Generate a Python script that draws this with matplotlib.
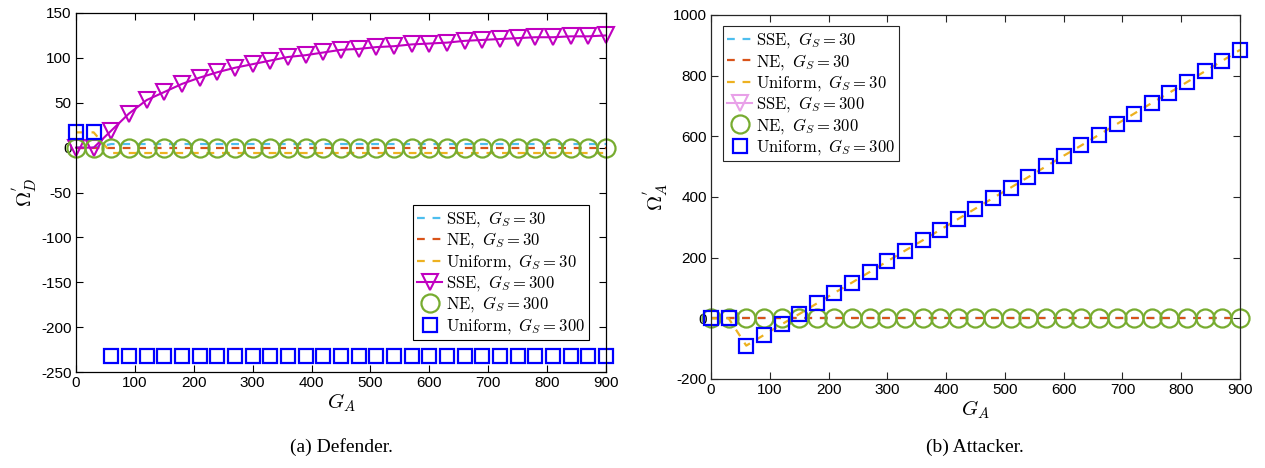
import numpy as np
import matplotlib
matplotlib.use("Agg")
import matplotlib.pyplot as plt

plt.rcParams['mathtext.fontset'] = 'cm'
plt.rcParams['font.family'] = ['Liberation Sans', 'DejaVu Sans']
plt.rcParams['axes.unicode_minus'] = False

# ---------------- data ----------------
G_A = [0, 30, 60, 90, 120, 150, 180, 210, 240, 270, 300, 330, 360, 390, 420, 450,
       480, 510, 540, 570, 600, 630, 660, 690, 720, 750, 780, 810, 840, 870, 900]

# Defender
def_sse30 = [0, 0, 4, 4, 4, 4, 4, 4, 4, 4, 4, 4, 4, 4, 4, 4,
             4, 4, 4, 4, 4, 4, 4, 4, 4, 4, 4, 4, 4, 4, 4]
def_ne30 = [0] * 31
def_uni30 = [17, 17, -6, -6, -6, -6, -6, -6, -6, -6, -6, -6, -6, -6, -6, -6,
             -6, -6, -6, -6, -6, -6, -6, -6, -6, -6, -6, -6, -6, -6, -6]
def_sse300 = [0, 0, 19, 38, 53, 62, 71, 78, 84, 89, 93, 97, 101, 103, 106, 109,
              110, 112, 113, 115, 116, 117, 119, 120, 121, 122, 123, 123, 124, 124, 125]
def_ne300 = [0] * 31
def_uni300 = [17, 17, -232, -232, -232, -232, -232, -232, -232, -232, -232, -232,
              -232, -232, -232, -232, -232, -232, -232, -232, -232, -232, -232,
              -232, -232, -232, -232, -232, -232, -232, -232]

# Attacker
att_sse30 = [0] * 31
att_ne30 = [0] * 31
att_uni30 = [0, 0, -90, -55, -20, 14, 49, 84, 118, 153, 188, 223, 257, 292, 327, 362,
             397, 431, 466, 501, 536, 570, 605, 640, 675, 710, 744, 779, 814, 849, 885]
att_ne300 = [0] * 31
att_uni300 = [0, 0, -90, -55, -20, 14, 49, 84, 118, 153, 188, 223, 257, 292, 327, 362,
              397, 431, 466, 501, 536, 570, 605, 640, 675, 710, 744, 779, 814, 849, 885]

labels = [r'$\mathrm{SSE},\ G_S = 30$', r'$\mathrm{NE},\ G_S = 30$',
          r'$\mathrm{Uniform},\ G_S = 30$', r'$\mathrm{SSE},\ G_S = 300$',
          r'$\mathrm{NE},\ G_S = 300$', r'$\mathrm{Uniform},\ G_S = 300$']

c_lblue = '#4DBEEE'
c_red = '#D95319'
c_orange = '#EDB120'
c_mag = '#C000C0'
c_green = '#77AC30'
c_blue = '#0000FF'
dash = (3.5, 3.5)

fig = plt.figure(figsize=(12.65, 4.68), dpi=100)
axL = fig.add_axes([76/1265, 1-372/468, (606-76)/1265, (372-13)/468])
axR = fig.add_axes([711/1265, 1-379/468, (1240-711)/1265, (379-15)/468])


def style(ax, col):
    ax.tick_params(direction='in', top=True, right=True, labelsize=11,
                   length=5, width=0.8, colors='black', pad=3)
    for s in ax.spines.values():
        s.set_color(col)
        s.set_linewidth(0.9)
    ax.tick_params(axis='both', color=col)


# Left: Defender
axL.plot(G_A, def_sse30, ls='--', dashes=dash, color=c_lblue, lw=1.6, label=labels[0])
axL.plot(G_A, def_ne30, ls='--', dashes=dash, color=c_red, lw=1.6, label=labels[1])
axL.plot(G_A, def_uni30, ls='--', dashes=dash, color=c_orange, lw=1.6, label=labels[2])
axL.plot(G_A, def_sse300, ls='-', color=c_mag, lw=1.5, marker='v', ms=12,
         mfc='none', mec=c_mag, mew=1.5, label=labels[3], clip_on=False)
axL.plot(G_A, def_ne300, ls='none', marker='o', ms=13, mfc='none', mec=c_green,
         mew=1.6, label=labels[4], clip_on=False)
axL.plot(G_A, def_uni300, ls='none', marker='s', ms=10, mfc='none', mec=c_blue,
         mew=1.6, label=labels[5], clip_on=False)
axL.set_xlim(0, 900)
axL.set_ylim(-250, 150)
axL.set_xticks(range(0, 901, 100))
axL.set_yticks(range(-250, 151, 50))
style(axL, 'black')
axL.set_xlabel(r'$G_A$', fontsize=15, labelpad=1)
axL.set_ylabel(r"$\Omega^{'}_D$", fontsize=15, labelpad=2)
legL = axL.legend(loc='upper left', bbox_to_anchor=(337/530, 1-(205-13)/359),
                  fontsize=12, frameon=True, fancybox=False, edgecolor='black',
                  framealpha=1, handlelength=1.5, handletextpad=0.2,
                  labelspacing=0.08, borderpad=0.25, borderaxespad=0)
legL.get_frame().set_linewidth(0.8)
legL.set_zorder(5)

# Right: Attacker
axR.plot(G_A, att_sse30, ls='--', dashes=dash, color=c_lblue, lw=1.6, label=labels[0])
axR.plot(G_A, att_ne30, ls='--', dashes=dash, color=c_red, lw=1.6, label=labels[1])
axR.plot(G_A, att_uni30, ls='--', dashes=dash, color=c_orange, lw=1.6, label=labels[2])
axR.plot([], [], ls='-', color='#E8A0E8', lw=1.5, marker='v', ms=12,
         mfc='none', mec='#E8A0E8', mew=1.5, label=labels[3])
axR.plot(G_A, att_ne300, ls='none', marker='o', ms=13, mfc='none', mec=c_green,
         mew=1.6, label=labels[4], clip_on=False)
axR.plot(G_A, att_uni300, ls='none', marker='s', ms=10, mfc='none', mec=c_blue,
         mew=1.6, label=labels[5], clip_on=False)
axR.set_xlim(0, 900)
axR.set_ylim(-200, 1000)
axR.set_xticks(range(0, 901, 100))
axR.set_yticks(range(-200, 1001, 200))
style(axR, '#262626')
axR.set_xlabel(r'$G_A$', fontsize=15, labelpad=1)
axR.set_ylabel(r"$\Omega^{'}_A$", fontsize=15, labelpad=2)
legR = axR.legend(loc='upper left', bbox_to_anchor=(12/529, 1-(26-15)/364),
                  fontsize=12, frameon=True, fancybox=False, edgecolor='#262626',
                  framealpha=1, handlelength=1.5, handletextpad=0.2,
                  labelspacing=0.08, borderpad=0.25, borderaxespad=0)
legR.get_frame().set_linewidth(0.8)
legR.set_zorder(5)

fig.text(341/1265, 1-447/468, '(a) Defender.', ha='center', va='center',
         fontsize=14, family='Liberation Serif')
fig.text(975/1265, 1-447/468, '(b) Attacker.', ha='center', va='center',
         fontsize=14, family='Liberation Serif')

fig.savefig('out.png', dpi=100)
